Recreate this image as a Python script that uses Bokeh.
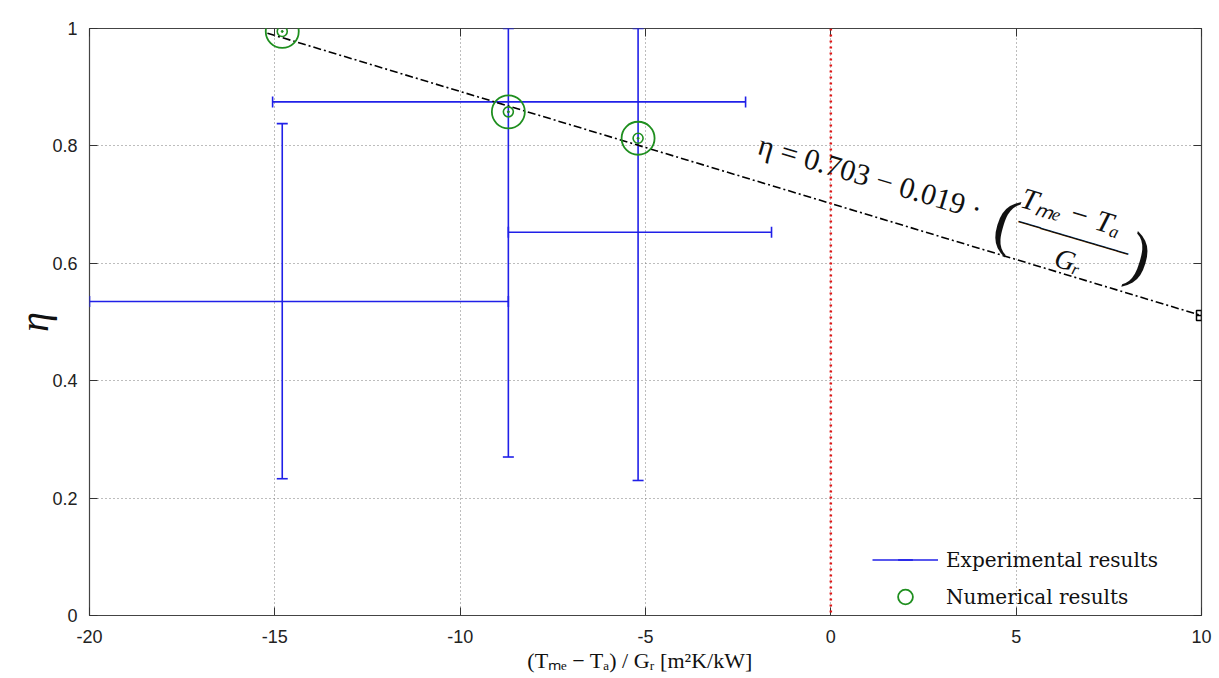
import math
from bokeh.plotting import figure
from bokeh.models import (Range1d, FixedTicker, LinearAxis, Span, Label,
                          Legend, LegendItem, ColumnDataSource, CustomJSTickFormatter)
from bokeh.embed import file_html
from bokeh.resources import INLINE

# ---- data ----
exp_x = [-14.8, -8.7, -5.2]
exp_y = [0.535, 0.875, 0.653]
exp_x_low = [-20.0, -15.06, -8.7]
exp_x_high = [-8.7, -2.3, -1.6]
exp_y_low = [0.233, 0.27, 0.23]
exp_y_high = [0.838, 1.0, 1.0]

num_x = [-14.8, -8.7, -5.2]
num_y = [0.995, 0.858, 0.813]

fit_x = [-15.2, 10.0]
fit_y = [0.992, 0.511]
fit_end_x = [10.0]
fit_end_y = [0.511]

x_ticks = [-20, -15, -10, -5, 0, 5, 10]
y_ticks = [0, 0.2, 0.4, 0.6, 0.8, 1.0]

BLUE = "#2020e8"
GREEN = "#1f8f1f"
TICK_FONT = "Liberation Sans"
SERIF = "Liberation Serif"

p = figure(width=1219, height=678, x_range=Range1d(-20, 10), y_range=Range1d(0, 1),
           output_backend="svg", toolbar_location=None,
           min_border_left=89, min_border_right=18, min_border_top=28, min_border_bottom=63)

p.outline_line_color = "#444444"
p.outline_line_width = 1.2
p.background_fill_color = "white"
p.border_fill_color = "white"

plain = CustomJSTickFormatter(code="return String(tick)")
for ax, ticks in ((p.xaxis[0], x_ticks), (p.yaxis[0], y_ticks)):
    ax.ticker = FixedTicker(ticks=ticks)
    ax.formatter = plain
    ax.major_tick_in = 8
    ax.major_tick_out = 0
    ax.minor_tick_line_color = None
    ax.axis_line_color = None
    ax.major_tick_line_color = "#333333"
    ax.major_label_text_font = TICK_FONT
    ax.major_label_text_font_size = "18px"
    ax.major_label_text_color = "#222222"
p.xaxis.major_label_standoff = 14
p.yaxis.major_label_standoff = 12

p.yaxis.axis_label = "η"
p.yaxis.axis_label_text_font = SERIF
p.yaxis.axis_label_text_font_style = "italic"
p.yaxis.axis_label_text_font_size = "40px"
p.yaxis.axis_label_text_color = "#111111"
p.yaxis.axis_label_standoff = -8

p.xaxis.axis_label = "(Tₘₑ − Tₐ) / Gᵣ   [m²K/kW]"
p.xaxis.axis_label_text_font = SERIF
p.xaxis.axis_label_text_font_style = "normal"
p.xaxis.axis_label_text_font_size = "22px"
p.xaxis.axis_label_text_color = "#111111"
p.xaxis.axis_label_standoff = 2

blank = CustomJSTickFormatter(code="return ''")
top = LinearAxis(ticker=FixedTicker(ticks=x_ticks), formatter=blank, major_tick_in=8,
                 major_tick_out=0, axis_line_color=None, minor_tick_line_color=None,
                 major_tick_line_color="#333333", major_label_standoff=0)
right = LinearAxis(ticker=FixedTicker(ticks=y_ticks), formatter=blank, major_tick_in=8,
                   major_tick_out=0, axis_line_color=None, minor_tick_line_color=None,
                   major_tick_line_color="#333333", major_label_standoff=0)
p.add_layout(top, "above")
p.add_layout(right, "right")

p.xgrid.ticker = FixedTicker(ticks=x_ticks)
p.ygrid.ticker = FixedTicker(ticks=y_ticks)
for g in (p.xgrid[0], p.ygrid[0]):
    g.grid_line_color = "#7a7a7a"
    g.grid_line_dash = "1 3"
    g.grid_line_width = 1

p.add_layout(Span(location=0, dimension="height", line_color="#e01515",
                  line_dash="2 4", line_width=2.5))

# experimental error bars
src = ColumnDataSource(dict(x=exp_x, y=exp_y, xl=exp_x_low, xh=exp_x_high,
                            yl=exp_y_low, yh=exp_y_high))
h_seg = p.segment(x0="xl", y0="y", x1="xh", y1="y", source=src, line_color=BLUE, line_width=1.6)
v_seg = p.segment(x0="x", y0="yl", x1="x", y1="yh", source=src, line_color=BLUE, line_width=1.6)
p.scatter(x="x", y="yl", source=src, marker="dash", size=11, line_color=BLUE, line_width=1.6)
p.scatter(x="x", y="yh", source=src, marker="dash", size=11, line_color=BLUE, line_width=1.6)
cap_l = p.scatter(x="xl", y="y", source=src, marker="dash", angle=math.pi / 2, size=11,
                  line_color=BLUE, line_width=1.6)
p.scatter(x="xh", y="y", source=src, marker="dash", angle=math.pi / 2, size=11,
          line_color=BLUE, line_width=1.6)

# fit line
p.line(fit_x, fit_y, line_color="black", line_dash="8 3 2 3", line_width=1.6)
p.scatter(fit_end_x, fit_end_y, marker="square_cross", size=10, fill_color=None,
          line_color="black", line_width=1.5)

# numerical results
big = p.scatter(num_x, num_y, marker="circle", size=33, fill_color=None,
                line_color=GREEN, line_width=1.8)
p.scatter(num_x, num_y, marker="circle", size=10, fill_color=None, line_color=GREEN, line_width=1.6)
p.scatter(num_x, num_y, marker="circle", size=2, fill_color=GREEN, line_color=GREEN)

legend = Legend(items=[LegendItem(label="Experimental results", renderers=[h_seg, cap_l]),
                       LegendItem(label="Numerical results", renderers=[big])],
                location=(783, 0), label_text_font="DejaVu Serif", label_text_font_size="20px",
                label_text_color="#111111",
                glyph_width=66, glyph_height=37, spacing=0, padding=0, margin=0,
                label_standoff=8, border_line_alpha=0, background_fill_alpha=0)
p.add_layout(legend)

# helpers to place the equation annotation by its pixel position in the frame
def dx(px):
    return -20 + (px - 89) * 30.0 / 1112.0

def dy(py):
    return (615 - py) / 587.0

def lab(text, px, py, size, style="normal", font=SERIF, angle=0.0, color="#111111"):
    p.add_layout(Label(x=dx(px), y=dy(py), text=text, angle=angle, text_align="center",
                       text_baseline="middle", text_font=font, text_font_style=style,
                       text_font_size=size, text_color=color))

# equation along the fit line
ang = -0.29
lab("η = 0.703 − 0.019 ·", 870, 176, "30px", angle=ang)
lab("(", 1006, 221, "64px", angle=ang)
lab("Tₘₑ − Tₐ", 1071, 211, "30px", style="italic", angle=ang)
lab("─" * 10, 1073, 237, "19px", font="DejaVu Sans Mono", angle=ang)
lab("Gᵣ", 1068, 260, "28px", style="italic", angle=ang)
lab(")", 1139, 255, "64px", angle=ang)

open("out.html", "w").write(file_html(p, INLINE))
